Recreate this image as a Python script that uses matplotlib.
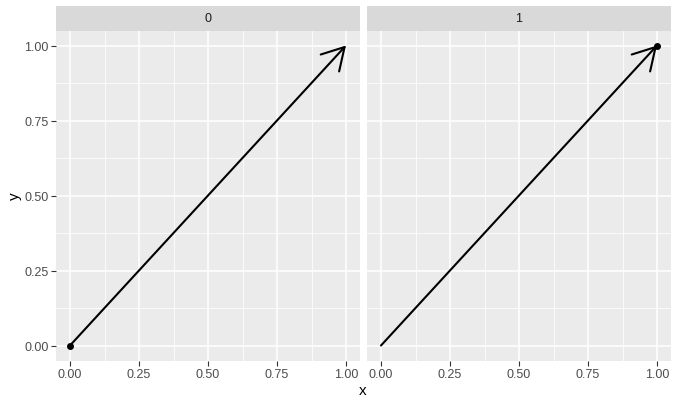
import numpy as np
import matplotlib.pyplot as plt

plt.rcParams['font.family'] = ['Liberation Sans', 'DejaVu Sans']

# data: one arrow per facet, plus a point that differs between facets
facets = ['0', '1']
x_start = [0.0, 0.0]
y_start = [0.0, 0.0]
x_end = [1.0, 1.0]
y_end = [1.0, 1.0]
pt_x = [0.0, 1.0]
pt_y = [0.0, 1.0]

ticks = [0.0, 0.25, 0.5, 0.75, 1.0]
tick_labels = ['0.00', '0.25', '0.50', '0.75', '1.00']
minor = [0.125, 0.375, 0.625, 0.875]

W, H = 679, 406
fig = plt.figure(figsize=(W / 100, H / 100), dpi=100)

panel_left = [56.2, 367.2]
panel_w = 303.6
top, bottom = 31.5, 361.5
strip_top = 7

for i, f in enumerate(facets):
    ax = fig.add_axes([panel_left[i] / W, (H - bottom) / H, panel_w / W, (bottom - top) / H])
    ax.set_facecolor('#EBEBEB')
    ax.set_xlim(-0.05, 1.05)
    ax.set_ylim(-0.05, 1.05)
    for s in ax.spines.values():
        s.set_visible(False)
    ax.set_xticks(ticks)
    ax.set_yticks(ticks)
    ax.set_xticks(minor, minor=True)
    ax.set_yticks(minor, minor=True)
    ax.grid(True, which='major', color='white', lw=1.1)
    ax.grid(True, which='minor', color='white', lw=0.55)
    ax.set_axisbelow(True)
    ax.tick_params(which='minor', length=0)
    ax.tick_params(which='major', length=3.5, width=0.8, color='#333333',
                   labelcolor='#4D4D4D', labelsize=9, pad=2)
    ax.set_xticklabels(tick_labels)
    if i == 0:
        ax.set_yticklabels(tick_labels)
    else:
        ax.tick_params(axis='y', length=0, labelleft=False)

    ax.annotate('', xy=(x_end[i], y_end[i]), xytext=(x_start[i], y_start[i]),
                arrowprops=dict(arrowstyle='->,head_length=15.6,head_width=9',
                                mutation_scale=1, lw=1.5, color='black',
                                shrinkA=0, shrinkB=0))
    ax.plot(pt_x[i], pt_y[i], 'o', color='black', ms=4)

    # facet strip
    sx = fig.add_axes([panel_left[i] / W, (H - top) / H, panel_w / W, (top - strip_top) / H])
    sx.set_facecolor('#D9D9D9')
    sx.set_xticks([])
    sx.set_yticks([])
    for s in sx.spines.values():
        s.set_visible(False)
    sx.text(0.5, 0.5, f, ha='center', va='center', fontsize=9, color='#1A1A1A',
            transform=sx.transAxes)

fig.text(363 / W, 1 - 391 / H, 'x', ha='center', va='center', fontsize=11)
fig.text(15 / W, 1 - 196 / H, 'y', ha='center', va='center', fontsize=11, rotation=90)

fig.savefig('out.png', dpi=100)
